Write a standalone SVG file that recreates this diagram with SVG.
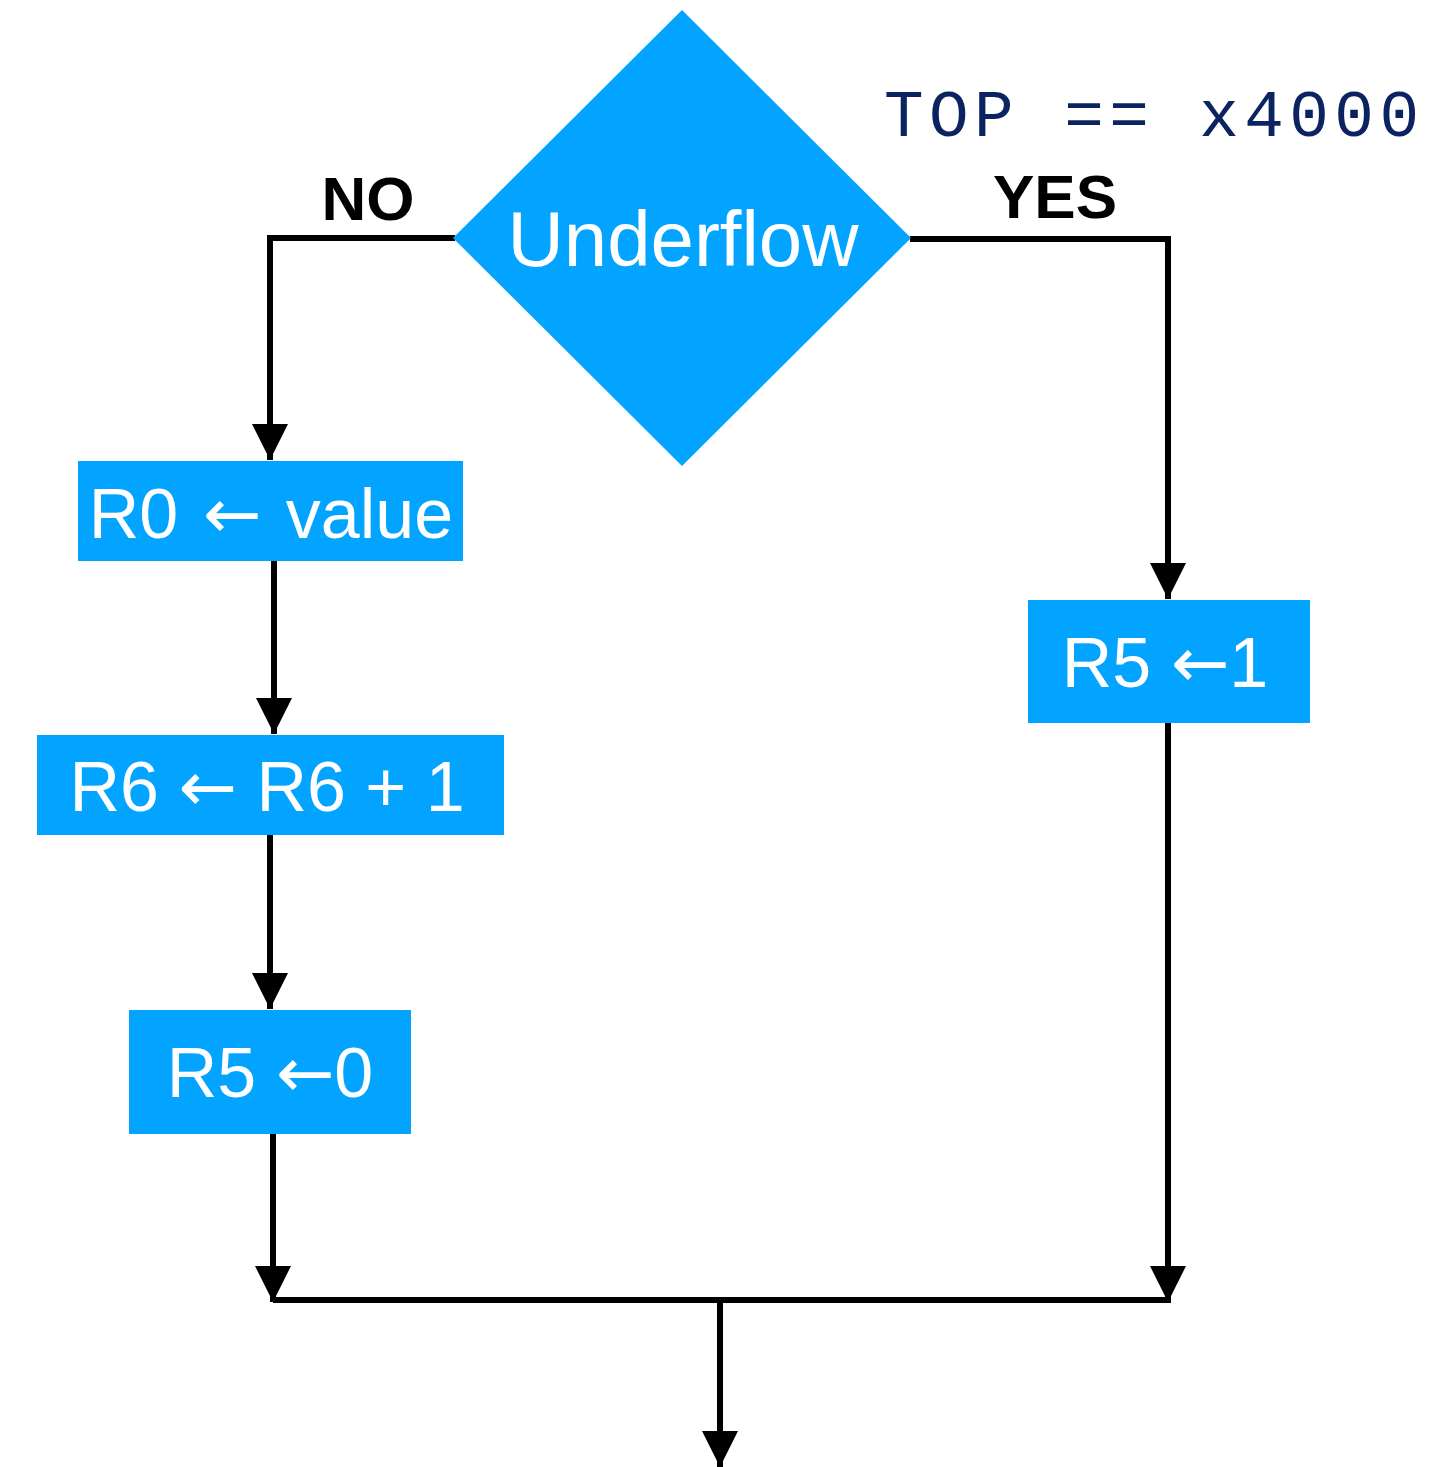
<svg xmlns="http://www.w3.org/2000/svg" width="1456" height="1467" viewBox="0 0 1456 1467">
<defs>
<style>
.node{fill:#02A4FF}
.lbl{font-family:"Liberation Sans",Arial,sans-serif;fill:#fff;text-anchor:middle;font-size:70px}
.arr{font-family:"DejaVu Sans",sans-serif}
.edge{fill:none;stroke:#000;stroke-width:6}
.cond{font-family:"Liberation Sans",Arial,sans-serif;font-weight:bold;font-size:62px;fill:#000}
.code{font-family:"Liberation Mono","Courier New",monospace;font-size:66px;fill:#0B2360}
</style>
<marker id="ah" markerUnits="userSpaceOnUse" markerWidth="36" markerHeight="36" viewBox="0 0 36 36" refX="36" refY="18" orient="auto">
<path d="M0,0 L36,18 L0,36 Z" fill="#000"/>
</marker>
</defs>
<rect width="1456" height="1467" fill="#fff"/>
<g id="connectors">
<polyline class="edge" points="455,238 270,238 270,460" marker-end="url(#ah)"/>
<line class="edge" x1="274" y1="561" x2="274" y2="734" marker-end="url(#ah)"/>
<line class="edge" x1="270" y1="835" x2="270" y2="1009" marker-end="url(#ah)"/>
<line class="edge" x1="273" y1="1134" x2="273" y2="1302" marker-end="url(#ah)"/>
<polyline class="edge" points="910,239 1168,239 1168,599" marker-end="url(#ah)"/>
<line class="edge" x1="1168" y1="723" x2="1168" y2="1302" marker-end="url(#ah)"/>
<line class="edge" x1="273" y1="1300" x2="1171" y2="1300"/>
<line class="edge" x1="720" y1="1300" x2="720" y2="1467" marker-end="url(#ah)"/>
<text class="cond" x="368" y="220" text-anchor="middle">NO</text>
<text class="cond" x="1055" y="218" text-anchor="middle">YES</text>
</g>
<g id="underflow">
<polygon class="node" points="682,10 911,238 682,466 453,238"/>
<text class="lbl" x="683" y="266" style="font-size:78px">Underflow</text>
</g>
<g id="cond-label">
<text class="code" x="884" y="136" textLength="535" lengthAdjust="spacing">TOP == x4000</text>
</g>
<g id="r0">
<rect class="node" x="78" y="461" width="385" height="100"/>
<text class="lbl" x="271" y="538" style="word-spacing:5px">R0 <tspan class="arr">←</tspan> value</text>
</g>
<g id="r6">
<rect class="node" x="37" y="735" width="467" height="100"/>
<text class="lbl" x="267" y="811">R6 <tspan class="arr">←</tspan> R6 + 1</text>
</g>
<g id="r5zero">
<rect class="node" x="129" y="1010" width="282" height="124"/>
<text class="lbl" x="270" y="1097">R5 <tspan class="arr">←</tspan>0</text>
</g>
<g id="r5one">
<rect class="node" x="1028" y="600" width="282" height="123"/>
<text class="lbl" x="1165" y="687">R5 <tspan class="arr">←</tspan>1</text>
</g>
</svg>
